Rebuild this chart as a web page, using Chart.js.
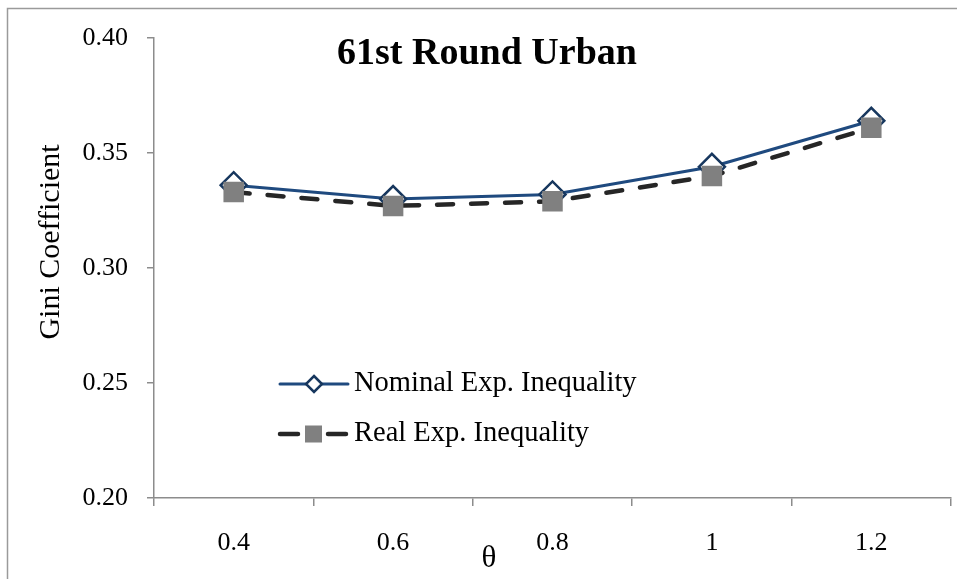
<!DOCTYPE html>
<html><head><meta charset="utf-8">
<script src="https://cdn.jsdelivr.net/npm/chart.js@4/dist/chart.umd.min.js"></script>
<style>html,body{margin:0;padding:0;background:#fff}#wrap{width:957px;height:579px}</style>
</head><body><div id="wrap"><canvas id="c" width="957" height="579"></canvas></div>
<script>
const categories = ['0.4', '0.6', '0.8', '1', '1.2'];
const nominal = [0.336, 0.330, 0.332, 0.344, 0.364];
const real = [0.333, 0.327, 0.329, 0.340, 0.361];
const yTicks = [0.20, 0.25, 0.30, 0.35, 0.40];
const titleText = '61st Round Urban';
const yTitle = 'Gini Coefficient';
const xTitle = 'θ';
const FONT = '"Liberation Serif", "DejaVu Serif", serif';

const deco = {
  id: 'deco',
  beforeDraw(chart) {
    const ctx = chart.ctx;
    ctx.save();
    ctx.strokeStyle = '#9a9a9a';
    ctx.lineWidth = 1.5;
    ctx.strokeRect(7.5, 8.5, 970, 600);
    ctx.restore();
  },
  afterDraw(chart) {
    const ctx = chart.ctx;
    ctx.save();
    ctx.fillStyle = '#000';
    ctx.font = 'bold 38px ' + FONT;
    ctx.textAlign = 'center';
    ctx.textBaseline = 'middle';
    ctx.fillText(titleText, 487, 54);
    ctx.font = '31px ' + FONT;
    ctx.fillText(xTitle, 489, 559);
    ctx.translate(51, 242);
    ctx.rotate(-Math.PI / 2);
    ctx.font = '30px ' + FONT;
    ctx.fillText(yTitle, 0, 0);
    ctx.restore();
    // legend
    ctx.save();
    const items = chart.data.datasets;
    const lx = 278, ys = [384, 434];
    items.forEach((ds, i) => {
      const y = ys[i];
      ctx.strokeStyle = ds.borderColor;
      ctx.lineWidth = ds.borderWidth;
      ctx.lineCap = 'round';
      ctx.setLineDash([]);
      if (i === 0) {
        ctx.beginPath();
        ctx.moveTo(lx + 2, y);
        ctx.lineTo(lx + 70, y);
        ctx.stroke();
        ctx.fillStyle = '#fff';
        ctx.strokeStyle = ds.pointBorderColor;
        ctx.lineWidth = 2.5;
        ctx.beginPath();
        ctx.moveTo(lx + 36, y - 8); ctx.lineTo(lx + 44, y); ctx.lineTo(lx + 36, y + 8); ctx.lineTo(lx + 28, y);
        ctx.closePath(); ctx.fill(); ctx.stroke();
      } else {
        ctx.beginPath();
        ctx.moveTo(lx + 2, y); ctx.lineTo(lx + 20, y);
        ctx.moveTo(lx + 50, y); ctx.lineTo(lx + 68, y);
        ctx.stroke();
        ctx.fillStyle = ds.pointBackgroundColor;
        ctx.fillRect(lx + 27, y - 8.5, 17, 17);
      }
      ctx.fillStyle = '#000';
      ctx.font = '28.5px ' + FONT;
      ctx.textAlign = 'left';
      ctx.textBaseline = 'middle';
      ctx.fillText(ds.label, lx + 76, y);
    });
    ctx.restore();
  }
};

new Chart(document.getElementById('c'), {
  type: 'line',
  data: {
    labels: categories,
    datasets: [
      {
        label: 'Nominal Exp. Inequality',
        data: nominal,
        borderColor: '#1f4a7f',
        borderWidth: 3,
        pointStyle: 'rectRot',
        pointRadius: 13,
        pointBackgroundColor: '#ffffff',
        pointBorderColor: '#17375e',
        pointBorderWidth: 2.5,
        tension: 0,
        order: 1
      },
      {
        label: 'Real Exp. Inequality',
        data: real,
        borderColor: '#262626',
        borderWidth: 4.5,
        borderDash: [16, 18],
        borderCapStyle: 'round',
        pointStyle: 'rect',
        pointRadius: 14.5,
        pointBackgroundColor: '#808080',
        pointBorderColor: '#808080',
        pointBorderWidth: 0,
        tension: 0,
        order: 0
      }
    ]
  },
  plugins: [deco],
  options: {
    responsive: false,
    animation: false,
    events: [],
    layout: { autoPadding: false, padding: { top: 38, right: 6, left: 0, bottom: 0 } },
    plugins: { legend: { display: false }, title: { display: false }, tooltip: { enabled: false } },
    scales: {
      x: {
        type: 'category',
        offset: true,
        grid: { offset: true, drawOnChartArea: false, drawTicks: true, tickLength: 8, color: '#8c8c8c', lineWidth: 1.5 },
        border: { color: '#8c8c8c', width: 1.5 },
        ticks: { color: '#000', font: { family: FONT, size: 26 }, padding: 22, maxRotation: 0 },
        afterFit(s) { s.height = 81; s.paddingLeft = 0; s.paddingRight = 0; }
      },
      y: {
        min: 0.20, max: 0.40,
        afterBuildTicks(s) { s.ticks = yTicks.map(v => ({ value: v })); },
        grid: { drawOnChartArea: false, drawTicks: true, tickLength: 7, color: '#8c8c8c', lineWidth: 1.5 },
        border: { color: '#8c8c8c', width: 1.5 },
        ticks: { color: '#000', font: { family: FONT, size: 26 }, padding: 19, callback: v => v.toFixed(2) },
        afterFit(s) { s.width = 154; s.paddingTop = 0; s.paddingBottom = 0; }
      }
    }
  }
});
</script>
</body></html>
